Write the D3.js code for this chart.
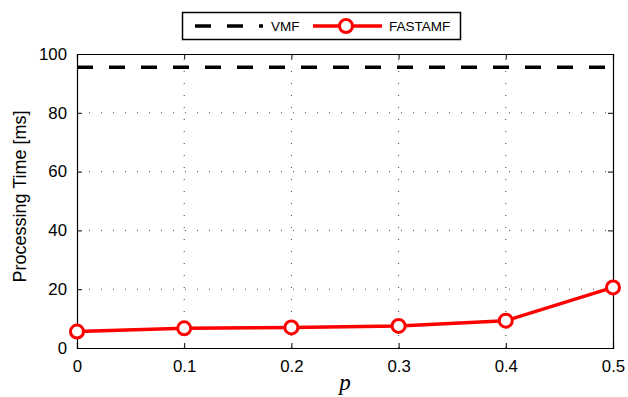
<!DOCTYPE html>
<html>
<head>
<meta charset="utf-8">
<script src="https://cdn.jsdelivr.net/npm/d3@7"></script>
<style>
  body { margin:0; background:#fff; }
  text { font-family: "Liberation Sans", Arial, sans-serif; fill:#000; }
</style>
</head>
<body>
<svg id="chart"></svg>
<script>
const W = 628, H = 397;

// data
const P = [0, 0.1, 0.2, 0.3, 0.4, 0.5];
const VMF = [95.5, 95.5, 95.5, 95.5, 95.5, 95.5];
const FASTAMF = [5.6, 6.7, 7.0, 7.5, 9.3, 20.6];
const X_TICKS = [0, 0.1, 0.2, 0.3, 0.4, 0.5];
const Y_TICKS = [0, 20, 40, 60, 80, 100];

const M = {l:77, r:613, t:54, b:348};

const svg = d3.select('#chart').attr('width', W).attr('height', H);

const x = d3.scaleLinear().domain([0, 0.5]).range([M.l, M.r]);
const y = d3.scaleLinear().domain([0, 100]).range([M.b, M.t]);

// grid
const grid = svg.append('g');
grid.selectAll('line.gx').data(X_TICKS.slice(1, -1)).join('line')
  .attr('x1', d => x(d)).attr('x2', d => x(d)).attr('y1', M.b).attr('y2', M.t)
  .attr('stroke', '#444').attr('stroke-width', 1).attr('stroke-dasharray', '1,11');
grid.selectAll('line.gy').data(Y_TICKS.slice(1, -1)).join('line')
  .attr('y1', d => y(d)).attr('y2', d => y(d)).attr('x1', M.l).attr('x2', M.r)
  .attr('stroke', '#444').attr('stroke-width', 1).attr('stroke-dasharray', '1,11');

// axes (inside ticks, box)
const fmt = d => d === 0 ? '0' : String(d);
const xb = svg.append('g').attr('transform', `translate(0,${M.b})`)
  .call(d3.axisBottom(x).tickValues(X_TICKS).tickSize(-5).tickPadding(12).tickFormat(fmt));
const xt = svg.append('g').attr('transform', `translate(0,${M.t})`)
  .call(d3.axisTop(x).tickValues(X_TICKS).tickSize(-5).tickFormat(''));
const yl = svg.append('g').attr('transform', `translate(${M.l},0)`)
  .call(d3.axisLeft(y).tickValues(Y_TICKS).tickSize(-5).tickPadding(10));
const yr = svg.append('g').attr('transform', `translate(${M.r},0)`)
  .call(d3.axisRight(y).tickValues(Y_TICKS).tickSize(-5).tickFormat(''));
[xb, xt, yl, yr].forEach(g => {
  g.select('.domain').attr('stroke', '#000').attr('stroke-width', 1.2);
  g.selectAll('.tick line').attr('stroke', '#000').attr('stroke-width', 1);
  g.selectAll('.tick text').style('font-size', '16.8px').attr('fill', '#000')
    .style('font-family', '"Liberation Sans", Arial, sans-serif');
});

// VMF dashed
const line = d3.line().x((d, i) => x(P[i])).y(d => y(d));
svg.append('path').datum(VMF).attr('d', line)
  .attr('fill', 'none').attr('stroke', '#000').attr('stroke-width', 3.5)
  .attr('stroke-dasharray', '16,16');

// FASTAMF
svg.append('path').datum(FASTAMF).attr('d', line)
  .attr('fill', 'none').attr('stroke', '#ff0000').attr('stroke-width', 3.5)
  .attr('stroke-linejoin', 'round');
svg.selectAll('circle.m').data(FASTAMF).join('circle')
  .attr('cx', (d, i) => x(P[i])).attr('cy', d => y(d)).attr('r', 6.5)
  .attr('fill', '#fff').attr('stroke', '#ff0000').attr('stroke-width', 3);

// labels
svg.append('text').attr('transform', 'translate(20,196.5) rotate(-90)')
  .attr('text-anchor', 'middle').attr('dy', '0.35em')
  .style('font-size', '18px').text('Processing Time [ms]');
svg.append('text').attr('x', 345).attr('y', 390)
  .attr('text-anchor', 'middle').style('font-family', '"Liberation Serif", "DejaVu Serif", serif')
  .style('font-style', 'italic').style('font-size', '23px').text('p');

// legend
const lg = svg.append('g');
lg.append('rect').attr('x', 182.5).attr('y', 12.5).attr('width', 278).attr('height', 27)
  .attr('fill', '#fff').attr('stroke', '#000').attr('stroke-width', 1.5);
lg.append('line').attr('x1', 195).attr('x2', 263).attr('y1', 26).attr('y2', 26)
  .attr('stroke', '#000').attr('stroke-width', 3.5).attr('stroke-dasharray', '16,16');
lg.append('text').attr('x', 271).attr('y', 31).style('font-size', '13.5px').text('VMF');
lg.append('line').attr('x1', 313).attr('x2', 382).attr('y1', 26).attr('y2', 26)
  .attr('stroke', '#ff0000').attr('stroke-width', 3.5);
lg.append('circle').attr('cx', 346).attr('cy', 26).attr('r', 6.5)
  .attr('fill', '#fff').attr('stroke', '#ff0000').attr('stroke-width', 3);
lg.append('text').attr('x', 389).attr('y', 31).style('font-size', '13.5px').text('FASTAMF');
</script>
</body>
</html>
